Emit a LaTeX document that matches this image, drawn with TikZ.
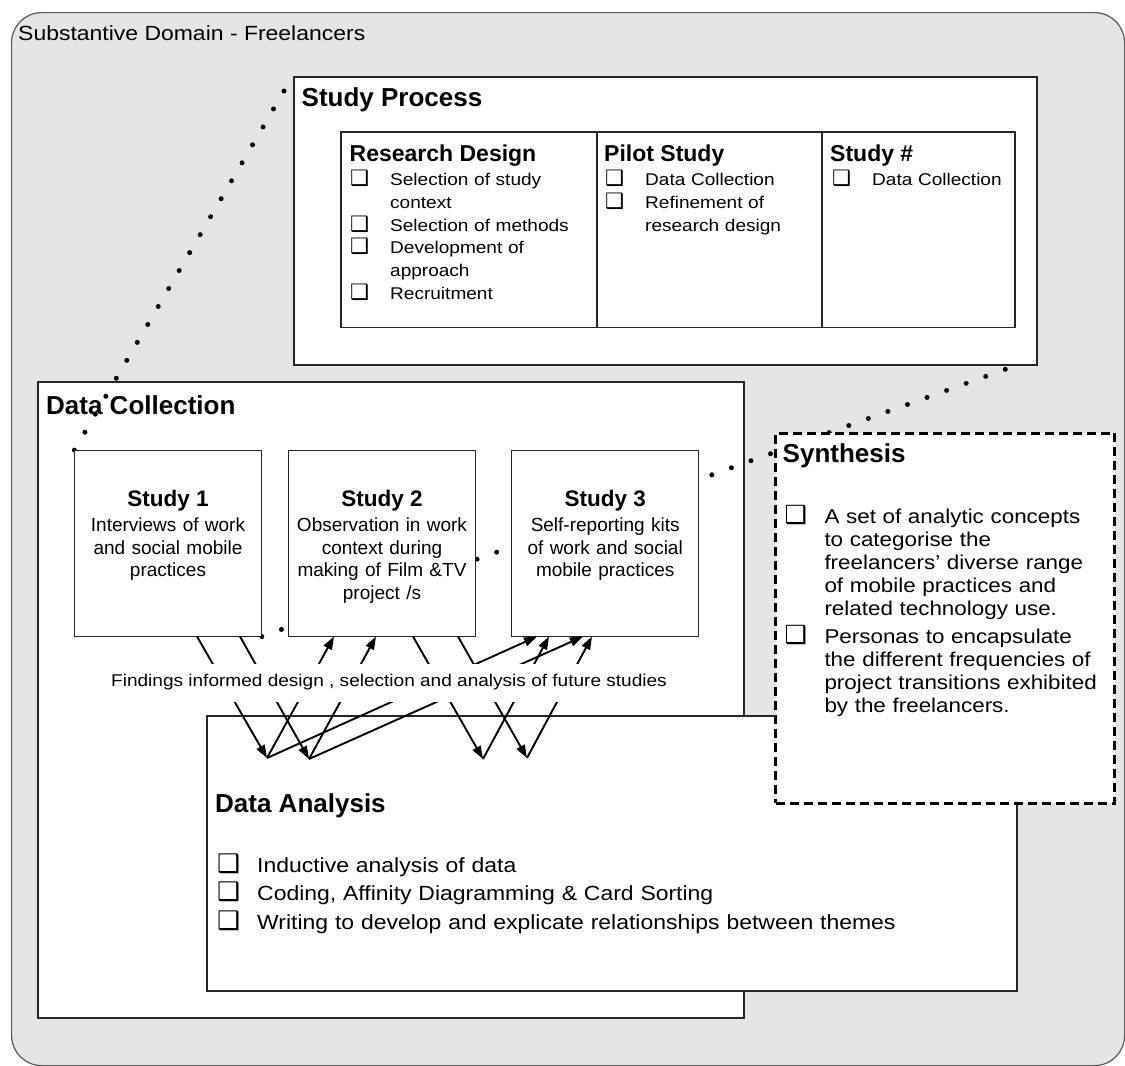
\documentclass[tikz,border=0pt]{standalone}
\usepackage{fontspec}
\setmainfont{Liberation Sans}
\newfontfamily\wide[FakeStretch=1.12]{Liberation Sans}
\newfontfamily\dv{DejaVu Sans}
\usetikzlibrary{arrows.meta}
\definecolor{bg}{RGB}{229,229,229}
\newcommand\cbx{\makebox[40pt][l]{\dv\bfseries\scalebox{1.25}{❑}}}
\newcommand\ind{\hspace*{40pt}}
\begin{document}
\begin{tikzpicture}[x=1pt,y=-1pt,
  box/.style={draw=black!85, line width=1.2pt, fill=white, anchor=north west, inner sep=0pt, outer sep=0pt},
  ttl/.style={anchor=base west, inner sep=0pt, font=\bfseries\fontsize{26}{30}\selectfont},
  sttl/.style={anchor=base west, inner sep=0pt, font=\bfseries\fontsize{23}{27}\selectfont},
  lst/.style={anchor=north west, inner sep=0pt, align=left, text width=#1},
  stt/.style={anchor=base, inner sep=0pt, font=\bfseries\fontsize{22.5}{26}\selectfont},
  stx/.style={anchor=north, inner sep=0pt, align=center, text width=185pt, font=\fontsize{19}{22.4}\selectfont},
  dotln/.style={line width=5pt, line cap=round, dash pattern=on 0pt off 20.79pt},
  arr/.style={line width=1.9pt, -{Triangle[length=13pt,width=9pt]}}
]
\useasboundingbox (0,0) rectangle (1125,1066);
% outer domain
\node[draw=black!65, line width=1.2pt, fill=bg, rounded corners=30pt, anchor=north west,
      minimum width=1113pt, minimum height=1053pt, inner sep=0pt] (dom) at (11,12) {};
\node[anchor=base west, inner sep=0pt, font=\wide\fontsize{20.5}{24}\selectfont] (domt) at (18,40.5) {Substantive Domain - Freelancers};

% study process
\node[box, minimum width=743pt, minimum height=288pt] (sp) at (294,77) {};
\node[ttl] (spt) at (301.5,106) {Study Process};
\node[box, minimum width=256pt, minimum height=195.5pt] (rd) at (341,132) {};
\node[box, minimum width=225pt, minimum height=195.5pt] (ps) at (597,132) {};
\node[box, minimum width=193pt, minimum height=195.5pt] (sn) at (822,132) {};
\node[sttl] (rdt) at (349.5,161) {Research Design};
\node[lst=240pt, font=\wide\fontsize{17}{22.9}\selectfont] (rdl) at (350,169)
  {\strut\cbx Selection of study\\ \ind context\\ \cbx Selection of methods\\ \cbx Development of\\ \ind approach\\ \cbx Recruitment};
\node[sttl] (pst) at (604,161) {Pilot Study};
\node[lst=210pt, font=\wide\fontsize{17}{22.9}\selectfont] (psl) at (605,169)
  {\strut\cbx Data Collection\\ \cbx Refinement of\\ \ind research design};
\node[sttl] (snt) at (830,161) {Study \#};
\node[lst=180pt, font=\wide\fontsize{17}{22.9}\selectfont] (snl) at (832,169)
  {\strut\cbx Data Collection};

% data collection
\node[box, minimum width=706pt, minimum height=636pt] (dc) at (38,382) {};
\node[ttl] (dct) at (46,414) {Data Collection};

% dotted zoom lines
\coordinate (p1) at (284,91);
\coordinate (p2) at (1005.3,369.3);
\coordinate (c1) at (74.3,450.3);
\coordinate (c2) at (261.8,636.5);
\draw[dotln] (p1) -- (c1);
\draw[dotln] (p2) -- (c2);

% studies
\node[box, minimum width=187.5pt, minimum height=186.2pt] (s1) at (74.3,450.3) {};
\node[box, minimum width=187.5pt, minimum height=186.2pt] (s2) at (288.2,450.3) {};
\node[box, minimum width=186.8pt, minimum height=186.2pt] (s3) at (511.8,450.3) {};
\node[stt] (s1t) at (168,506.5) {Study 1};
\node[stx] (s1x) at (168,516) {\strut Interviews of work\\and social mobile\\practices};
\node[stt] (s2t) at (382,506.5) {Study 2};
\node[stx] (s2x) at (382,516) {\strut Observation in work\\context during\\making of Film \&TV\\project /s};
\node[stt] (s3t) at (605.2,506.5) {Study 3};
\node[stx] (s3x) at (605.2,516) {\strut Self-reporting kits\\of work and social\\mobile practices};

% data analysis
\node[box, minimum width=810pt, minimum height=275pt] (da) at (207,716) {};
\node[ttl] (dat) at (215,812.5) {Data Analysis};
\node[lst=760pt, font=\wide\fontsize{20.5}{28.8}\selectfont] (dal) at (217,851.8)
  {\strut\cbx Inductive analysis of data\\ \cbx Coding, Affinity Diagramming \& Card Sorting\\ \cbx Writing to develop and explicate relationships between themes};

% arrows
\coordinate (da1) at (267,758);
\coordinate (da2) at (309,759);
\coordinate (da3) at (483,759);
\coordinate (da4) at (527,758);
\coordinate (s1a) at (197,636.5);
\coordinate (s1b) at (240,636.5);
\coordinate (s2a) at (334,636.5);
\coordinate (s2b) at (376,636.5);
\coordinate (s2c) at (413,636.5);
\coordinate (s2d) at (458,636.5);
\coordinate (s3a) at (537,636.5);
\coordinate (s3b) at (549,636.5);
\coordinate (s3c) at (583,636.5);
\coordinate (s3d) at (592,636.5);
\draw[arr] (s1a) -- (da1);
\draw[arr] (s1b) -- (da2);
\draw[arr] (s2c) -- (da3);
\draw[arr] (s2d) -- (da4);
\draw[arr] (da1) -- (s2a);
\draw[arr] (da2) -- (s2b);
\draw[arr] (da1) -- (s3a);
\draw[arr] (da2) -- (s3c);
\draw[arr] (da3) -- (s3b);
\draw[arr] (da4) -- (s3d);
\node[anchor=base, fill=white, inner sep=0pt, text height=22.7pt, text depth=15pt,
      font=\wide\fontsize{17}{20}\selectfont] (fnd) at (389,686.7)
  {Findings informed design , selection and analysis of future studies};

% synthesis
\node[draw=black, line width=2.8pt, dash pattern=on 9pt off 5pt, fill=white, anchor=north west,
      inner sep=0pt, minimum width=339pt, minimum height=370pt] (syn) at (774.3,431.7) {};
\node[ttl] (synt) at (782.5,462.5) {Synthesis};
\node[lst=325pt, font=\wide\fontsize{20}{22.9}\selectfont] (synl) at (784.3,505)
  {\strut\cbx A set of analytic concepts\\ \ind to categorise the\\ \ind freelancers’ diverse range\\ \ind of mobile practices and\\ \ind related technology use.\\[6pt] \cbx Personas to encapsulate\\ \ind the different frequencies of\\ \ind project transitions exhibited\\ \ind by the freelancers.};
\end{tikzpicture}
\end{document}
